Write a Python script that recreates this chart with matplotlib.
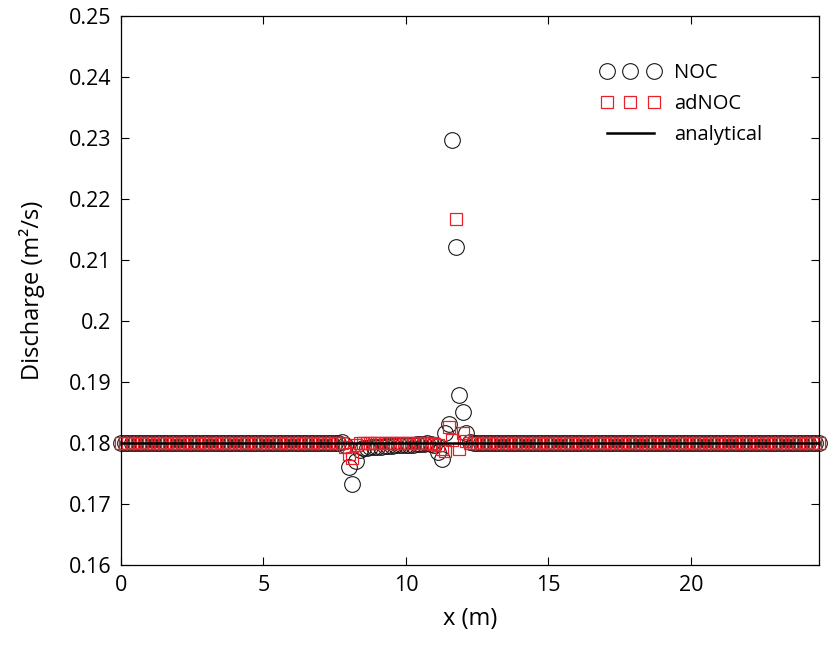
import numpy as np
import matplotlib
matplotlib.use("Agg")
import matplotlib.pyplot as plt

plt.rcParams['font.family'] = ['Open Sans', 'DejaVu Sans']

# mesh (0 to 24.5 m, step 0.125 m)
x = np.linspace(0.0, 24.5, 197)

q_base = 0.18
# values in disturbed region, x = 7.75 ... 12.25 (indices 62..98)
i0 = 62
noc_mid = [0.1801, 0.1797, 0.1760, 0.1733, 0.1770, 0.1788, 0.1791, 0.1792,
           0.1793, 0.1793, 0.1794, 0.1794, 0.1795, 0.1795, 0.1795, 0.1796,
           0.1796, 0.1796, 0.1797, 0.1797, 0.1797, 0.1798, 0.1798, 0.1799,
           0.1800, 0.1799, 0.1797, 0.1785, 0.1774, 0.1817, 0.1831, 0.2297,
           0.2122, 0.1878, 0.1851, 0.1817, 0.1802]
adnoc_mid = [0.1800, 0.1793, 0.1782, 0.1776, 0.1797, 0.1800, 0.1800, 0.1800,
             0.1800, 0.1800, 0.1800, 0.1800, 0.1800, 0.1800, 0.1800, 0.1800,
             0.1800, 0.1800, 0.1800, 0.1800, 0.1800, 0.1800, 0.1800, 0.1800,
             0.1800, 0.1800, 0.1799, 0.1796, 0.1790, 0.1787, 0.1826, 0.1805,
             0.2167, 0.1790, 0.1817, 0.1803, 0.1800]

noc = np.full(x.size, q_base)
noc[i0:i0 + len(noc_mid)] = noc_mid
adnoc = np.full(x.size, q_base)
adnoc[i0:i0 + len(adnoc_mid)] = adnoc_mid
analytical = np.full(x.size, q_base)

xticks = [0, 5, 10, 15, 20]
yticks = [0.16, 0.17, 0.18, 0.19, 0.20, 0.21, 0.22, 0.23, 0.24, 0.25]
ytick_labels = ['0.16', '0.17', '0.18', '0.19', '0.2', '0.21', '0.22', '0.23', '0.24', '0.25']

fig = plt.figure(figsize=(8.31, 6.55), dpi=100)
ax = fig.add_axes([121/831, 1 - 565/655, (819 - 121)/831, (565 - 16)/655])

red = '#e8202a'
ax.plot(x, noc, linestyle='none', marker='o', ms=11.3, mfc='none', mec='#1a1a1a',
        mew=0.8, label='NOC', zorder=2, clip_on=False)
ax.plot(x, adnoc, linestyle='none', marker='s', ms=8.8, mfc='none', mec=red,
        mew=0.9, label='adNOC', zorder=3, clip_on=False)
ax.plot(x, analytical, color='black', lw=1.8, label='analytical', zorder=4)

ax.set_xlim(0, 24.5)
ax.set_ylim(0.16, 0.25)
ax.set_xticks(xticks)
ax.set_yticks(yticks)
ax.set_yticklabels(ytick_labels)
ax.tick_params(direction='in', top=True, right=True, length=6, width=0.8,
               labelsize=15.5, pad=7)
for s in ax.spines.values():
    s.set_linewidth(0.9)

ax.set_xlabel('x (m)', fontsize=17, labelpad=8)
ax.set_ylabel('Discharge (m²/s)', fontsize=17, labelpad=17)

leg = ax.legend(loc='upper left', bbox_to_anchor=(0.662, 0.948), frameon=False,
                numpoints=3, fontsize=14.5, handlelength=2.9, handletextpad=0.7,
                labelspacing=0.55)

fig.savefig('out.png', dpi=100)
